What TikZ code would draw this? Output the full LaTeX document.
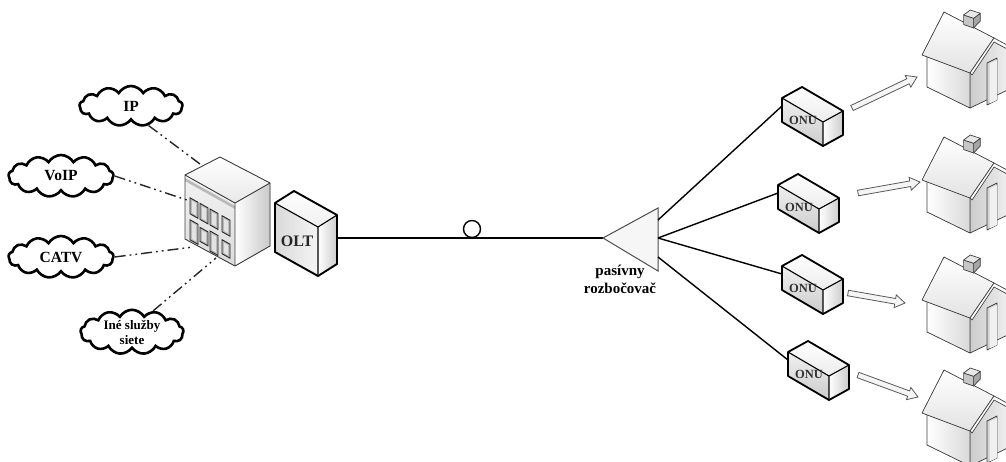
\documentclass[tikz,border=0pt]{standalone}
\usepackage{fontspec}
\setmainfont{Liberation Serif}
\usetikzlibrary{calc,shapes.symbols}

% hollow block arrow between two named coordinates
\newcommand\hollowarrow[2]{%
  \draw[harrow] let \p1=($(#2)-(#1)$), \n1={atan2(\y1,\x1)} in
    ($(#1)+(\n1+90:2.8pt)$)
    -- ($(#2)+(\n1+180:10pt)+(\n1+90:2.8pt)$)
    -- ($(#2)+(\n1+180:10pt)+(\n1+90:6.5pt)$)
    -- (#2)
    -- ($(#2)+(\n1+180:10pt)+(\n1-90:6.5pt)$)
    -- ($(#2)+(\n1+180:10pt)+(\n1-90:2.8pt)$)
    -- ($(#1)+(\n1-90:2.8pt)$) -- cycle;}

% window on the front face of the office block: u from, u to, v from, v to
\newcommand\bwin[4]{%
  \filldraw[winframe] ($(b1)!#1!(b4)+(0,#3)$) -- ($(b1)!#2!(b4)+(0,#3)$)
    -- ($(b1)!#2!(b4)+(0,#4)$) -- ($(b1)!#1!(b4)+(0,#4)$) -- cycle;
  \fill[winpane] ($(b1)!#1+0.04!(b4)+(0,#3+2)$) -- ($(b1)!#2-0.04!(b4)+(0,#3+2)$)
    -- ($(b1)!#2-0.04!(b4)+(0,#4-2)$) -- ($(b1)!#1+0.04!(b4)+(0,#4-2)$) -- cycle;}

\tikzset{
  svc/.style={cloud, cloud puffs=13, cloud puff arc=120, cloud ignores aspect,
    draw=black, line width=2.6pt, fill=white, inner sep=0pt, align=center,
    font=\bfseries\fontsize{15.5}{17}\selectfont},
  link/.style={line width=1.4pt, black!85,
    dash pattern=on 11pt off 4pt on 1.8pt off 4pt on 1.8pt off 4pt},
  fiber/.style={line width=1.4pt, black},
  harrow/.style={draw=black!65, line width=0.8pt, fill=gray!8, line join=miter},
  winframe/.style={draw=black!85, line width=0.9pt, fill=gray!55},
  winpane/.style={fill=gray!22},
  houseline/.style={draw=black!75, line width=0.7pt, line join=round},
  onutext/.style={font=\bfseries\fontsize{12.5}{14}\selectfont, text=black!80, inner sep=0pt},
  lbl/.style={font=\bfseries\fontsize{15}{18}\selectfont, align=center, inner sep=0pt},
  onu/.pic={
    \fill[top color=white, bottom color=gray!15] (0,0) -- (20,-11) -- (61,13) -- (41,24) -- cycle;
    \fill[top color=gray!12, bottom color=gray!40] (0,0) -- (41,24) -- (41,48) -- (0,24) -- cycle;
    \fill[left color=white, right color=gray!40] (41,24) -- (61,13) -- (61,37) -- (41,48) -- cycle;
    \draw[line width=1.1pt, line join=round] (0,0) -- (41,24) -- (61,13) (41,24) -- (41,48);
    \draw[line width=1.8pt, line join=round] (0,0) -- (20,-11) -- (61,13) -- (61,37) -- (41,48) -- (0,24) -- cycle;
    \node[onutext] (-label) at (21,22) {ONU};
    \coordinate (-in) at (0,8);
  },
  house/.pic={
    % gable end
    \fill[left color=gray!40, right color=gray!5] (48,18) -- (72,-15) -- (96,-4) -- (96,30) -- (48,53) -- cycle;
    % long wall
    \fill[left color=white, right color=gray!30] (5,2) -- (48,18) -- (48,53) -- (5,32) -- cycle;
    \draw[houseline] (5,2) -- (5,32) -- (48,53) -- (96,30) (48,18) -- (48,53);
    % door
    \filldraw[houseline, fill=gray!35] (65,8) -- (75,3) -- (75,45) -- (65,50) -- cycle;
    \fill[gray!12] (67.5,8.5) -- (75,5) -- (75,45) -- (67.5,48.5) -- cycle;
    % roof and verge board
    \filldraw[houseline, top color=white, bottom color=gray!22] (0,0) -- (22,-43) -- (72,-17) -- (48,18) -- cycle;
    \filldraw[houseline, fill=white] (48,18) -- (72,-17) -- (100,-2) -- (100,2) -- (72,-13) -- (50,20) -- cycle;
    % chimney
    \filldraw[houseline, fill=gray!45] (41.6,-40) -- (51.6,-36.7) -- (51.6,-27) -- (41.6,-30.5) -- cycle;
    \filldraw[houseline, fill=gray!70] (51.6,-36.7) -- (58.3,-41.7) -- (58.3,-34) -- (51.6,-27) -- cycle;
    \filldraw[houseline, fill=gray!18] (41.6,-40) -- (48.3,-45) -- (58.3,-41.7) -- (51.6,-36.7) -- cycle;
  }
}

\begin{document}
\begin{tikzpicture}[x=1pt, y=-1pt]
\useasboundingbox (0,0) rectangle (1006,461);
\clip (0,0) rectangle (1006,461);

% services
\node[svc, minimum width=103pt, minimum height=40pt] (ip)   at (131,106) {IP};
\node[svc, minimum width=105pt, minimum height=42pt] (voip) at (61,176)  {VoIP};
\node[svc, minimum width=105pt, minimum height=42pt] (catv) at (61,257)  {CATV};
\node[svc, minimum width=103pt, minimum height=44pt,
      font=\bfseries\fontsize{13}{15}\selectfont] (ine) at (132,332) {Iné služby\\siete};

% office block (head end)
\coordinate (b1) at (185,175);
\coordinate (b2) at (220,157);
\coordinate (b3) at (270,183);
\coordinate (b4) at (235,203);
\coordinate (b1d) at (185,239);
\coordinate (b4d) at (235,266);
\coordinate (b3d) at (270,246);
\fill[top color=gray!10, bottom color=gray!28] (b1) -- (b4) -- (b4d) -- (b1d) -- cycle;
\fill[left color=white, right color=gray!42] (b4) -- (b3) -- (b3d) -- (b4d) -- cycle;
\fill[top color=white, bottom color=gray!18] (b1) -- (b2) -- (b3) -- (b4) -- cycle;
\fill[gray!55] ($(b1)+(0,3)$) -- ($(b4)+(0,3)$) -- ($(b4)+(0,6)$) -- ($(b1)+(0,6)$) -- cycle;
\bwin{0.10}{0.26}{20}{36}
\bwin{0.30}{0.46}{20}{36}
\bwin{0.50}{0.66}{20}{36}
\bwin{0.74}{0.90}{20}{36}
\bwin{0.10}{0.26}{42}{62}
\bwin{0.30}{0.46}{44}{58}
\bwin{0.50}{0.66}{42}{62}
\bwin{0.74}{0.90}{44}{58}
\draw[black!75, line width=0.9pt, line join=round]
  (b1) -- (b2) -- (b3) -- (b3d) -- (b4d) -- (b1d) -- cycle (b1) -- (b4) -- (b3) (b4) -- (b4d);

% service links
\coordinate (bIP)   at (200,164);
\coordinate (bVoIP) at (187,200);
\coordinate (bCATV) at (193,247);
\coordinate (bIne)  at (216,258);
\draw[link] (ip.-48) -- (bIP);
\draw[link] (voip.east) -- (bVoIP);
\draw[link] (catv.east) -- (bCATV);
\draw[link] (ine.45) -- (bIne);

% OLT
\coordinate (o1) at (275,203);
\coordinate (o2) at (294,191);
\coordinate (o3) at (337,215);
\coordinate (o4) at (318,227);
\coordinate (o1d) at (275,252);
\coordinate (o4d) at (318,276);
\coordinate (o3d) at (337,264);
\fill[left color=gray!30, right color=gray!8] (o1) -- (o4) -- (o4d) -- (o1d) -- cycle;
\fill[left color=white, right color=gray!40] (o4) -- (o3) -- (o3d) -- (o4d) -- cycle;
\fill[top color=white, bottom color=gray!12] (o1) -- (o2) -- (o3) -- (o4) -- cycle;
\draw[line width=1.1pt, line join=round] (o1) -- (o4) -- (o3) (o4) -- (o4d);
\draw[line width=1.9pt, line join=round] (o1) -- (o2) -- (o3) -- (o3d) -- (o4d) -- (o1d) -- cycle;
\node[font=\bfseries\fontsize{16}{18}\selectfont, text=black!85, inner sep=0pt] (oltlabel) at (297,241) {OLT};
\coordinate (oltout) at (337,238);

% passive splitter
\coordinate (sapex) at (603,238);
\coordinate (stop) at (658,208);
\coordinate (sbot) at (658,271);
\coordinate (spA) at (658,220);
\coordinate (spB) at (658,238);
\coordinate (spC) at (658,257);
\draw[fiber] (oltout) -- (sapex);
\node[circle, draw, line width=1.4pt, fill=white, minimum size=17pt, inner sep=0pt] (slack) at (472,229) {};
\draw[draw=gray!60!black, line width=1pt, fill=gray!7, line join=miter] (sapex) -- (stop) -- (sbot) -- cycle;
\node[lbl] (splabel) at (620,279) {pasívny\\rozbočovač};

% subscriber units
\pic (onuA) at (782,98)  {onu};
\pic (onuB) at (778,185) {onu};
\pic (onuC) at (782,266) {onu};
\pic (onuD) at (788,352) {onu};
\draw[fiber] (spA) -- (onuA-in);
\draw[fiber] (spB) -- (onuB-in);
\draw[fiber] (spB) -- (onuC-in);
\draw[fiber] (spC) -- (onuD-in);

% homes
\pic at (922,55)  {house};
\pic at (922,180) {house};
\pic at (922,300) {house};
\pic at (922,413) {house};

% delivery arrows
\coordinate (ar1s) at (852,108); \coordinate (ar1e) at (917,77);
\coordinate (ar2s) at (858,193); \coordinate (ar2e) at (920,182);
\coordinate (ar3s) at (848,293); \coordinate (ar3e) at (905,303);
\coordinate (ar4s) at (858,375); \coordinate (ar4e) at (918,397);
\hollowarrow{ar1s}{ar1e}
\hollowarrow{ar2s}{ar2e}
\hollowarrow{ar3s}{ar3e}
\hollowarrow{ar4s}{ar4e}
\end{tikzpicture}
\end{document}
